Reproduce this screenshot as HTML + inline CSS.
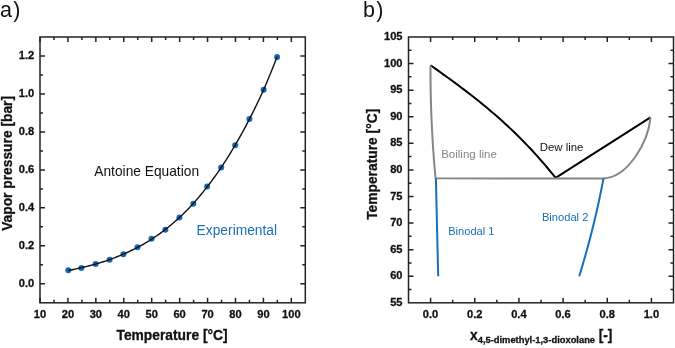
<!DOCTYPE html>
<html><head><meta charset="utf-8"><style>
html,body{margin:0;padding:0;background:#fff;}
body{width:675px;height:348px;overflow:hidden;position:relative;}
svg{position:absolute;left:0;top:0;will-change:transform;}
text{font-family:"Liberation Sans",sans-serif;}
.tk{font-size:11.1px;font-weight:bold;fill:#111;stroke:#111;stroke-width:0.3px;}
.ti{font-size:13.8px;font-weight:bold;fill:#111;stroke:#111;stroke-width:0.3px;}
</style></head><body>
<svg width="675" height="348" viewBox="0 0 675 348">
<rect x="40" y="37" width="265.3" height="265.8" fill="none" stroke="#232323" stroke-width="1.5"/>
<path d="M40 302.8v-5.0M40 37v5.0M67.93 302.8v-5.0M67.93 37v5.0M95.85 302.8v-5.0M95.85 37v5.0M123.78 302.8v-5.0M123.78 37v5.0M151.71 302.8v-5.0M151.71 37v5.0M179.63 302.8v-5.0M179.63 37v5.0M207.56 302.8v-5.0M207.56 37v5.0M235.48 302.8v-5.0M235.48 37v5.0M263.41 302.8v-5.0M263.41 37v5.0M291.34 302.8v-5.0M291.34 37v5.0M53.96 302.8v-3.0M53.96 37v3.0M81.89 302.8v-3.0M81.89 37v3.0M109.82 302.8v-3.0M109.82 37v3.0M137.74 302.8v-3.0M137.74 37v3.0M165.67 302.8v-3.0M165.67 37v3.0M193.59 302.8v-3.0M193.59 37v3.0M221.52 302.8v-3.0M221.52 37v3.0M249.45 302.8v-3.0M249.45 37v3.0M277.37 302.8v-3.0M277.37 37v3.0" stroke="#232323" stroke-width="1.5" fill="none"/>
<path d="M40 283.81h5.0M305.3 283.81h-5.0M40 245.84h5.0M305.3 245.84h-5.0M40 207.87h5.0M305.3 207.87h-5.0M40 169.9h5.0M305.3 169.9h-5.0M40 131.93h5.0M305.3 131.93h-5.0M40 93.96h5.0M305.3 93.96h-5.0M40 55.99h5.0M305.3 55.99h-5.0M40 264.83h3.0M305.3 264.83h-3.0M40 226.86h3.0M305.3 226.86h-3.0M40 188.89h3.0M305.3 188.89h-3.0M40 150.91h3.0M305.3 150.91h-3.0M40 112.94h3.0M305.3 112.94h-3.0M40 74.97h3.0M305.3 74.97h-3.0" stroke="#232323" stroke-width="1.5" fill="none"/>
<text x="40" y="317.5" class="tk" text-anchor="middle">10</text>
<text x="67.93" y="317.5" class="tk" text-anchor="middle">20</text>
<text x="95.85" y="317.5" class="tk" text-anchor="middle">30</text>
<text x="123.78" y="317.5" class="tk" text-anchor="middle">40</text>
<text x="151.71" y="317.5" class="tk" text-anchor="middle">50</text>
<text x="179.63" y="317.5" class="tk" text-anchor="middle">60</text>
<text x="207.56" y="317.5" class="tk" text-anchor="middle">70</text>
<text x="235.48" y="317.5" class="tk" text-anchor="middle">80</text>
<text x="263.41" y="317.5" class="tk" text-anchor="middle">90</text>
<text x="291.34" y="317.5" class="tk" text-anchor="middle">100</text>
<text x="34.2" y="286.91" class="tk" text-anchor="end">0.0</text>
<text x="34.2" y="248.94" class="tk" text-anchor="end">0.2</text>
<text x="34.2" y="210.97" class="tk" text-anchor="end">0.4</text>
<text x="34.2" y="173" class="tk" text-anchor="end">0.6</text>
<text x="34.2" y="135.03" class="tk" text-anchor="end">0.8</text>
<text x="34.2" y="97.06" class="tk" text-anchor="end">1.0</text>
<text x="34.2" y="59.09" class="tk" text-anchor="end">1.2</text>
<circle cx="68.3" cy="270.3" r="3.0" fill="#166ab6"/>
<circle cx="81.4" cy="268" r="3.0" fill="#166ab6"/>
<circle cx="95.6" cy="264" r="3.0" fill="#166ab6"/>
<circle cx="109.6" cy="259.7" r="3.0" fill="#166ab6"/>
<circle cx="123.4" cy="254.2" r="3.0" fill="#166ab6"/>
<circle cx="137.5" cy="247.3" r="3.0" fill="#166ab6"/>
<circle cx="151.5" cy="238.7" r="3.0" fill="#166ab6"/>
<circle cx="165.4" cy="229.7" r="3.0" fill="#166ab6"/>
<circle cx="179.4" cy="217.6" r="3.0" fill="#166ab6"/>
<circle cx="193.3" cy="203.8" r="3.0" fill="#166ab6"/>
<circle cx="207.1" cy="186.5" r="3.0" fill="#166ab6"/>
<circle cx="221.2" cy="167.6" r="3.0" fill="#166ab6"/>
<circle cx="235.2" cy="145.2" r="3.0" fill="#166ab6"/>
<circle cx="249.4" cy="119" r="3.0" fill="#166ab6"/>
<circle cx="263.6" cy="89.7" r="3.0" fill="#166ab6"/>
<circle cx="277.1" cy="56.9" r="3.0" fill="#166ab6"/>
<path d="M68.3 270.52 L69.61 270.26 L70.92 270 L72.23 269.73 L73.54 269.45 L74.85 269.17 L76.16 268.88 L77.47 268.59 L78.78 268.28 L80.09 267.98 L81.4 267.66 L82.82 267.34 L84.24 267.01 L85.66 266.67 L87.08 266.32 L88.5 265.97 L89.92 265.61 L91.34 265.24 L92.76 264.86 L94.18 264.47 L95.6 264.08 L97 263.67 L98.4 263.26 L99.8 262.83 L101.2 262.4 L102.6 261.96 L104 261.51 L105.4 261.05 L106.8 260.58 L108.2 260.1 L109.6 259.61 L110.98 259.11 L112.36 258.6 L113.74 258.08 L115.12 257.54 L116.5 257 L117.88 256.44 L119.26 255.88 L120.64 255.3 L122.02 254.71 L123.4 254.11 L124.81 253.5 L126.22 252.88 L127.63 252.24 L129.04 251.59 L130.45 250.93 L131.86 250.25 L133.27 249.56 L134.68 248.86 L136.09 248.14 L137.5 247.41 L138.9 246.67 L140.3 245.91 L141.7 245.13 L143.1 244.34 L144.5 243.54 L145.9 242.71 L147.3 241.88 L148.7 241.02 L150.1 240.15 L151.5 239.26 L152.89 238.36 L154.28 237.44 L155.67 236.5 L157.06 235.54 L158.45 234.56 L159.84 233.57 L161.23 232.56 L162.62 231.52 L164.01 230.47 L165.4 229.4 L166.8 228.31 L168.2 227.2 L169.6 226.07 L171 224.92 L172.4 223.74 L173.8 222.55 L175.2 221.33 L176.6 220.1 L178 218.84 L179.4 217.56 L180.79 216.25 L182.18 214.93 L183.57 213.58 L184.96 212.2 L186.35 210.81 L187.74 209.39 L189.13 207.94 L190.52 206.47 L191.91 204.98 L193.3 203.46 L194.68 201.92 L196.06 200.35 L197.44 198.76 L198.82 197.14 L200.2 195.49 L201.58 193.82 L202.96 192.12 L204.34 190.39 L205.72 188.63 L207.1 186.85 L208.51 185.04 L209.92 183.2 L211.33 181.34 L212.74 179.44 L214.15 177.52 L215.56 175.56 L216.97 173.58 L218.38 171.57 L219.79 169.52 L221.2 167.45 L222.6 165.35 L224 163.21 L225.4 161.05 L226.8 158.85 L228.2 156.62 L229.6 154.36 L231 152.06 L232.4 149.74 L233.8 147.38 L235.2 144.99 L236.62 142.56 L238.04 140.11 L239.46 137.61 L240.88 135.09 L242.3 132.53 L243.72 129.93 L245.14 127.3 L246.56 124.64 L247.98 121.94 L249.4 119.21 L250.82 116.44 L252.24 113.63 L253.66 110.79 L255.08 107.91 L256.5 105 L257.92 102.05 L259.34 99.06 L260.76 96.03 L262.18 92.97 L263.6 89.87 L264.95 86.73 L266.3 83.56 L267.65 80.34 L269 77.09 L270.35 73.8 L271.7 70.47 L273.05 67.1 L274.4 63.7 L275.75 60.25 L277.1 56.76" stroke="#111" stroke-width="1.4" fill="none"/>
<rect x="408.5" y="37" width="265" height="265.8" fill="none" stroke="#232323" stroke-width="1.5"/>
<path d="M430.58 302.8v-5.0M430.58 37v5.0M474.75 302.8v-5.0M474.75 37v5.0M518.92 302.8v-5.0M518.92 37v5.0M563.08 302.8v-5.0M563.08 37v5.0M607.25 302.8v-5.0M607.25 37v5.0M651.42 302.8v-5.0M651.42 37v5.0M452.67 302.8v-3.0M452.67 37v3.0M496.83 302.8v-3.0M496.83 37v3.0M541 302.8v-3.0M541 37v3.0M585.17 302.8v-3.0M585.17 37v3.0M629.33 302.8v-3.0M629.33 37v3.0" stroke="#232323" stroke-width="1.5" fill="none"/>
<path d="M408.5 276.22h5.0M673.5 276.22h-5.0M408.5 249.64h5.0M673.5 249.64h-5.0M408.5 223.06h5.0M673.5 223.06h-5.0M408.5 196.48h5.0M673.5 196.48h-5.0M408.5 169.9h5.0M673.5 169.9h-5.0M408.5 143.32h5.0M673.5 143.32h-5.0M408.5 116.74h5.0M673.5 116.74h-5.0M408.5 90.16h5.0M673.5 90.16h-5.0M408.5 63.58h5.0M673.5 63.58h-5.0M408.5 289.51h3.0M673.5 289.51h-3.0M408.5 262.93h3.0M673.5 262.93h-3.0M408.5 236.35h3.0M673.5 236.35h-3.0M408.5 209.77h3.0M673.5 209.77h-3.0M408.5 183.19h3.0M673.5 183.19h-3.0M408.5 156.61h3.0M673.5 156.61h-3.0M408.5 130.03h3.0M673.5 130.03h-3.0M408.5 103.45h3.0M673.5 103.45h-3.0M408.5 76.87h3.0M673.5 76.87h-3.0M408.5 50.29h3.0M673.5 50.29h-3.0" stroke="#232323" stroke-width="1.5" fill="none"/>
<text x="430.58" y="317.5" class="tk" text-anchor="middle">0.0</text>
<text x="474.75" y="317.5" class="tk" text-anchor="middle">0.2</text>
<text x="518.92" y="317.5" class="tk" text-anchor="middle">0.4</text>
<text x="563.08" y="317.5" class="tk" text-anchor="middle">0.6</text>
<text x="607.25" y="317.5" class="tk" text-anchor="middle">0.8</text>
<text x="651.42" y="317.5" class="tk" text-anchor="middle">1.0</text>
<text x="402.5" y="305.9" class="tk" text-anchor="end">55</text>
<text x="402.5" y="279.32" class="tk" text-anchor="end">60</text>
<text x="402.5" y="252.74" class="tk" text-anchor="end">65</text>
<text x="402.5" y="226.16" class="tk" text-anchor="end">70</text>
<text x="402.5" y="199.58" class="tk" text-anchor="end">75</text>
<text x="402.5" y="173" class="tk" text-anchor="end">80</text>
<text x="402.5" y="146.42" class="tk" text-anchor="end">85</text>
<text x="402.5" y="119.84" class="tk" text-anchor="end">90</text>
<text x="402.5" y="93.26" class="tk" text-anchor="end">95</text>
<text x="402.5" y="66.68" class="tk" text-anchor="end">100</text>
<text x="402.5" y="40.1" class="tk" text-anchor="end">105</text>
<path d="M430.5 65.2 L433.05 67.02 L435.61 68.85 L438.16 70.67 L440.71 72.51 L443.27 74.35 L445.82 76.19 L448.37 78.05 L450.92 79.91 L453.48 81.78 L456.03 83.67 L458.58 85.57 L461.14 87.48 L463.69 89.41 L466.24 91.35 L468.8 93.31 L471.35 95.29 L473.9 97.28 L476.46 99.3 L479.01 101.34 L481.56 103.4 L484.11 105.49 L486.67 107.59 L489.22 109.73 L491.77 111.89 L494.33 114.08 L496.88 116.3 L499.43 118.55 L501.99 120.83 L504.54 123.14 L507.09 125.49 L509.64 127.87 L512.2 130.29 L514.75 132.74 L517.3 135.23 L519.86 137.76 L522.41 140.34 L524.96 142.95 L527.52 145.6 L530.07 148.3 L532.62 151.04 L535.18 153.83 L537.73 156.66 L540.28 159.54 L542.83 162.47 L545.39 165.46 L547.94 168.49 L550.49 171.57 L553.05 174.71 L555.6 177.9 L650.5 117.3" stroke="#000" stroke-width="2" fill="none" stroke-linejoin="round"/>
<path d="M430.51 65.3 L430.5 71.25 L430.52 77.19 L430.57 83.14 L430.65 89.09 L430.76 95.04 L430.91 100.98 L431.08 106.93 L431.28 112.88 L431.52 118.83 L431.78 124.77 L432.08 130.72 L432.41 136.67 L432.76 142.62 L433.15 148.56 L433.57 154.51 L434.02 160.46 L434.5 166.41 L435.02 172.35 L435.56 178.3 L602 178.5 C628.25 178.5 648.46 140.85 650.5 117.3" stroke="#868686" stroke-width="2" fill="none" stroke-linejoin="round"/>
<path d="M435.9 178.3 L438.2 276.3" stroke="#1b6eb8" stroke-width="2" fill="none"/>
<path d="M603.52 178.3 L602.74 182.38 L601.95 186.47 L601.13 190.55 L600.29 194.63 L599.43 198.72 L598.56 202.8 L597.66 206.88 L596.74 210.97 L595.79 215.05 L594.83 219.13 L593.85 223.22 L592.85 227.3 L591.82 231.38 L590.78 235.47 L589.72 239.55 L588.63 243.63 L587.52 247.72 L586.4 251.8 L585.25 255.88 L584.08 259.97 L582.89 264.05 L581.68 268.13 L580.45 272.22 L579.2 276.3" stroke="#1b6eb8" stroke-width="2" fill="none"/>
<text x="0" y="17" font-size="21.5" letter-spacing="1.2" fill="#111">a)</text>
<text x="363" y="17" font-size="21.5" letter-spacing="1.2" fill="#111">b)</text>
<text x="172.05" y="339.8" class="ti" text-anchor="middle">Temperature [°C]</text>
<text transform="translate(11.6 163.4) rotate(-90)" class="ti" text-anchor="middle">Vapor pressure [bar]</text>
<text transform="translate(377.3 164.3) rotate(-90)" class="ti" text-anchor="middle">Temperature [°C]</text>
<text x="470" y="339.5" font-size="13.8" font-weight="bold" fill="#111" stroke="#111" stroke-width="0.3">x<tspan font-size="9.35" dy="3">4,5-dimethyl-1,3-dioxolane</tspan><tspan dy="-3" dx="3.6">[-]</tspan></text>
<text x="94.3" y="176.1" font-size="13.75" fill="#111">Antoine Equation</text>
<text x="196.6" y="234.6" font-size="13.8" fill="#1b6eb8">Experimental</text>
<text x="441.2" y="158.3" font-size="11.5" fill="#868686">Boiling line</text>
<text x="539.7" y="150.8" font-size="11.4" fill="#111">Dew line</text>
<text x="448.2" y="235.3" font-size="11.1" fill="#1b6eb8">Binodal 1</text>
<text x="541.9" y="220.7" font-size="11.15" fill="#1b6eb8">Binodal 2</text>
</svg>
</body></html>
